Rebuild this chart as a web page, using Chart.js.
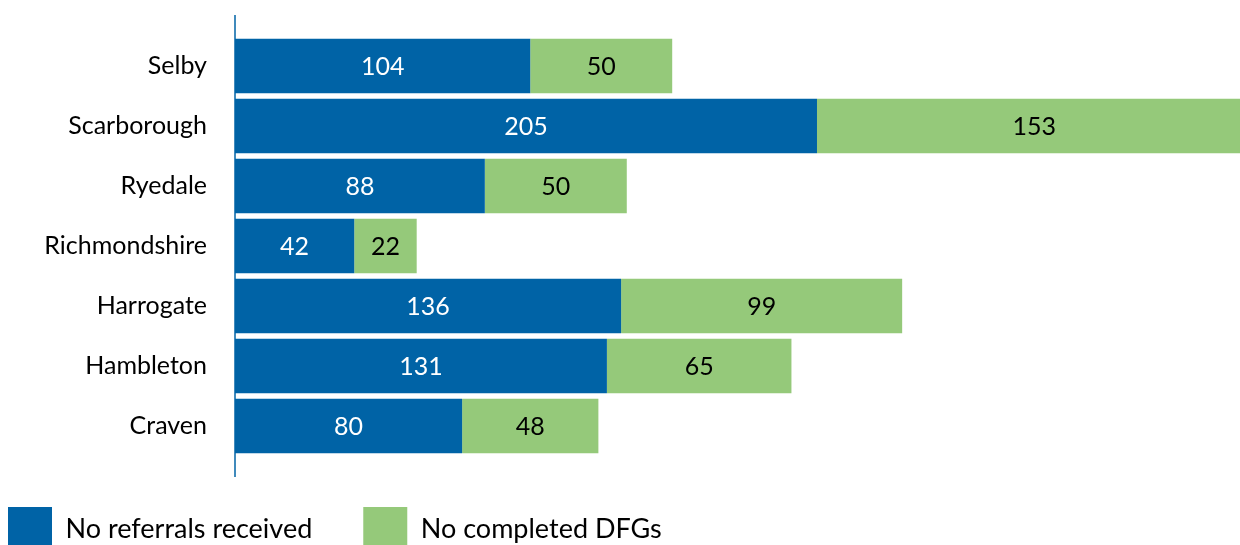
<!DOCTYPE html>
<html>
<head>
<meta charset="utf-8">
<script src="https://cdn.jsdelivr.net/npm/chart.js@4.4.0/dist/chart.umd.min.js"></script>
<style>
    html, body { margin: 0; padding: 0; background: #fff; overflow: hidden; }
    #wrap { width: 1240px; height: 561px; position: relative; }
</style>
</head>
<body>
<div id="wrap"><canvas id="dfgChart"></canvas></div>
<script>
const districts = ["Selby", "Scarborough", "Ryedale", "Richmondshire", "Harrogate", "Hambleton", "Craven"];
const referrals = [104, 205, 88, 42, 136, 131, 80];
const completed = [50, 153, 50, 22, 99, 65, 48];

const blue = "rgb(0, 99, 166)";
const green = "rgb(149, 201, 122)";
const fontFamily = "Lato, 'Open Sans', sans-serif";

// value labels centred in each bar segment
const barLabels = {
    id: "barLabels",
    afterDatasetsDraw(chart) {
        const ctx = chart.ctx;
        ctx.save();
        ctx.font = "25px " + fontFamily;
        ctx.textAlign = "center";
        ctx.textBaseline = "middle";
        chart.data.datasets.forEach(function (ds, i) {
            const meta = chart.getDatasetMeta(i);
            meta.data.forEach(function (bar, j) {
                ctx.fillStyle = i === 0 ? "#fff" : "#000";
                ctx.fillText(ds.data[j], (bar.x + bar.base) / 2, bar.y + 1);
            });
        });
        ctx.restore();
    }
};

// axis line, a little longer than the category band
const axisLine = {
    id: "axisLine",
    afterDraw(chart) {
        const ctx = chart.ctx;
        const x = chart.scales.x.getPixelForValue(0);
        ctx.save();
        ctx.strokeStyle = blue;
        ctx.lineWidth = 1.5;
        ctx.beginPath();
        ctx.moveTo(x, chart.chartArea.top - 21);
        ctx.lineTo(x, chart.chartArea.bottom + 21);
        ctx.stroke();
        ctx.restore();
    }
};

new Chart(document.getElementById("dfgChart"), {
    type: "bar",
    data: {
        labels: districts,
        datasets: [
            { label: "No referrals received", data: referrals, backgroundColor: blue },
            { label: "No completed DFGs", data: completed, backgroundColor: green }
        ]
    },
    options: {
        indexAxis: "y",
        responsive: true,
        maintainAspectRatio: false,
        animation: false,
        categoryPercentage: 1,
        barPercentage: 0.91,
        layout: { padding: { top: 36, right: 0, left: -43, bottom: 0 } },
        plugins: {
            legend: {
                position: "bottom",
                align: "start",
                labels: {
                    boxWidth: 44,
                    boxHeight: 44,
                    padding: 51,
                    color: "#000",
                    font: { family: fontFamily, size: 27 }
                }
            },
            tooltip: { enabled: false }
        },
        scales: {
            x: {
                stacked: true,
                display: false,
                min: 0,
                max: 354
            },
            y: {
                stacked: true,
                grid: { display: false, drawTicks: false },
                border: { display: false },
                afterFit: function (scale) {
                    scale.width = 278;
                    scale.paddingTop = 0;
                    scale.paddingBottom = 0;
                },
                ticks: {
                    color: "#000",
                    padding: 28,
                    font: { family: fontFamily, size: 25 }
                }
            }
        }
    },
    plugins: [barLabels, axisLine]
});
</script>
</body>
</html>
